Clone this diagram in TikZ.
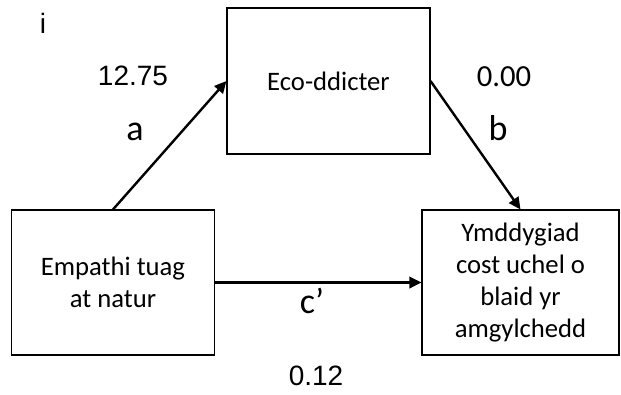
\documentclass[tikz,border=0pt]{standalone}
\usepackage{fontspec}
\setmainfont{Carlito}
\newfontfamily\arialfont{Liberation Sans}
\usepackage{tikz}
\usetikzlibrary{arrows.meta}
\tikzset{box/.style={draw=black, line width=0.8pt, rectangle, align=center, inner sep=0pt, font=\fontsize{20}{24}\selectfont}}
\tikzset{link/.style={draw=black, line width=1.8pt, -{Triangle[length=9pt,width=8.5pt]}}}
\tikzset{lbl/.style={anchor=base, inner sep=0pt, font=\fontsize{27}{32}\selectfont}}
\tikzset{num/.style={anchor=base, inner sep=0pt, font=\arialfont\fontsize{21}{25}\selectfont}}

\begin{document}
\begin{tikzpicture}[x=0.75pt, y=-0.75pt, line join=miter]
		\useasboundingbox (0,0) rectangle (621,394);
		
		\node[box, minimum width=152.25pt, minimum height=109.5pt] (eco) at (328.5,81) {Eco-ddicter};
		\node[box, minimum width=152.25pt, minimum height=108.75pt] (empathi) at (113,282.5) {Empathi tuag\\at natur};
		\node[box, minimum width=147.75pt, minimum height=108.75pt] (ymddygiad) at (520.5,282.5) {Ymddygiad\\cost uchel o\\blaid yr\\amgylchedd};
		
		\draw[link] (empathi.north) -- (eco.west);
		\draw[link] (eco.east) -- (ymddygiad.north);
		\draw[link] (empathi.east) -- (ymddygiad.west);
		
		\node[num] (panel) at (43,33) {i};
		\node[num] (coefa) at (133,85) {12.75};
		\node[lbl] (patha) at (135,140) {a};
		\node[lbl, font=\fontsize{23}{28}\selectfont] (coefb) at (504,86) {0.00};
		\node[lbl] (pathb) at (498,140) {b};
		\node[lbl] (pathc) at (312,313) {c’};
		\node[num] (coefc) at (316,385) {0.12};
\end{tikzpicture}
\end{document}
